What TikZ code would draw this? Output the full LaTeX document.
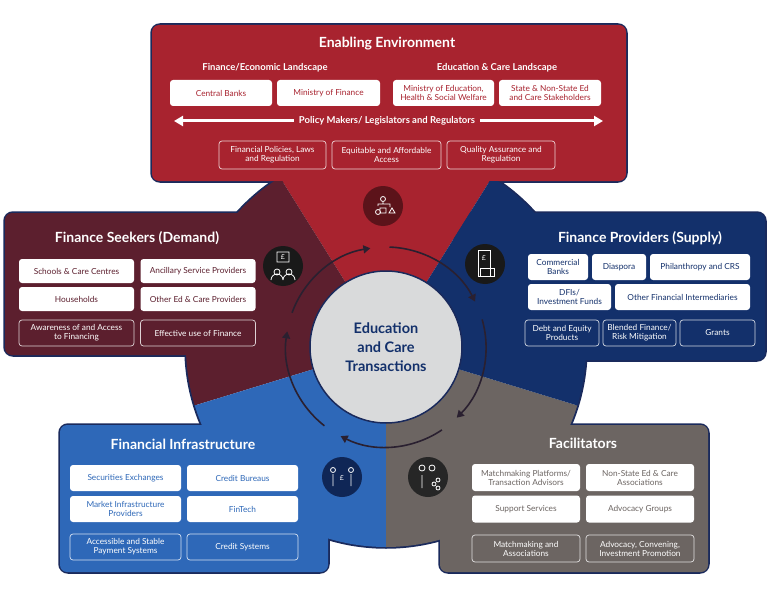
\documentclass[tikz,border=0pt]{standalone}
\usepackage{fontspec}
\setmainfont{Lato}
\usetikzlibrary{arrows.meta}
\definecolor{cred}{HTML}{A8232F}
\definecolor{cmar}{HTML}{5C1F2E}
\definecolor{cnav}{HTML}{13306B}
\definecolor{cblu}{HTML}{2E68B8}
\definecolor{cgry}{HTML}{6C6562}
\definecolor{cbor}{HTML}{1A2A5C}
\definecolor{ccir}{HTML}{D9DADB}
\definecolor{ccyc}{HTML}{2A2030}
\tikzset{
 wbox/.style={fill=white,rounded corners=3pt,text=#1,align=center,inner sep=1pt,font=\fontsize{8.3}{9}\selectfont},
 obox/.style={draw=white!80!#1,line width=0.7pt,rounded corners=3pt,text=white,align=center,inner sep=1pt,font=\fontsize{8.3}{9}\selectfont},
 ttl/.style={text=white,font=\bfseries\fontsize{14}{16}\selectfont},
 sub/.style={text=white,font=\bfseries\fontsize{9.5}{11}\selectfont},
 icon/.style={circle,fill=#1,minimum size=40pt,inner sep=0pt},
 cyc/.style={draw=ccyc,line width=1.6pt,-{Triangle[length=7pt,width=8pt]}},
 ic/.style={draw=white,line width=0.8pt}
}
\begin{document}
\begin{tikzpicture}[x=1pt,y=-1pt]
\useasboundingbox (0,0) rectangle (768,599);
% strokes
\draw[cbor,line width=3.5pt] (386,347) circle (200);
\foreach \a/\b/\c/\d in {152/25/626/181,5/213/262/355,455/213/765/360,60/425/328/572,440/425/708/572}
  \draw[cbor,line width=3.5pt,rounded corners=8pt] (\a,\b) rectangle (\c,\d);
% panel fills
\fill[cred,rounded corners=7pt] (152,25) rectangle (626,181);
\fill[cmar,rounded corners=7pt] (5,213) rectangle (262,355);
\fill[cnav,rounded corners=7pt] (455,213) rectangle (765,360);
\fill[cblu,rounded corners=7pt] (60,425) rectangle (328,572);
\fill[cgry,rounded corners=7pt] (440,425) rectangle (708,572);
% sectors
\begin{scope}
\clip (0,181) rectangle (768,599);
\begin{scope}[shift={(386,347)}]
\foreach \a/\b/\c in {58/122/cred,122/197/cmar,197/270/cblu,270/343/cgry,343/418/cnav}
  \fill[\c] (0,0) -- (-\a:200) arc[start angle=-\a,end angle=-\b,radius=200] -- cycle;
\end{scope}
\end{scope}
% cycle arrows
\begin{scope}[shift={(386,347)}]
\foreach \h in {98,26,-46,-118,-190}{
  \pgfmathsetmacro\s{-(\h+62)}
  \pgfmathsetmacro\e{-(\h+1)}
  \draw[cyc] (\s:100) arc[start angle=\s,end angle=\e,radius=100];
}
\end{scope}
% centre circle
\node[circle,fill=ccir,draw=cbor,line width=1.5pt,minimum size=152pt,align=center,text=cnav,font=\bfseries\fontsize{14.5}{19}\selectfont] (C) at (386,347) {Education\\and Care\\Transactions};
% Top panel
\node[ttl] (t1) at (387,44) {Enabling Environment};
\node[sub] (s1) at (265,68) {Finance/Economic Landscape};
\node[sub] (s2) at (497,68) {Education \& Care Landscape};
\node[wbox=cred,minimum width=102pt,minimum height=26pt] (e1) at (221,93) {Central Banks};
\node[wbox=cred,minimum width=103pt,minimum height=26pt] (e2) at (328.5,93) {Ministry of Finance};
\node[wbox=cred,minimum width=101pt,minimum height=26pt] (e3) at (443.5,93) {Ministry of Education,\\Health \& Social Welfare};
\node[wbox=cred,minimum width=102pt,minimum height=26pt] (e4) at (550,93) {State \& Non-State Ed\\and Care Stakeholders};
\node[sub,inner sep=5pt] (pm) at (387,121) {Policy Makers/ Legislators and Regulators};
\coordinate (pl) at (174,121);
\coordinate (pr) at (603,121);
\draw[white,line width=3pt,-{Triangle[length=9pt,width=10pt]}] (pm.west) -- (pl);
\draw[white,line width=3pt,-{Triangle[length=9pt,width=10pt]}] (pm.east) -- (pr);
\node[obox=cred,minimum width=107pt,minimum height=28pt] (e5) at (272.5,155) {Financial Policies, Laws\\and Regulation};
\node[obox=cred,minimum width=109pt,minimum height=28pt] (e6) at (386.5,155) {Equitable and Affordable\\Access};
\node[obox=cred,minimum width=108pt,minimum height=28pt] (e7) at (501,155) {Quality Assurance and\\Regulation};
% Demand
\node[ttl] (t2) at (137,238) {Finance Seekers (Demand)};
\node[wbox=cmar,minimum width=115pt,minimum height=24pt] (d1) at (76.5,271) {Schools \& Care Centres};
\node[wbox=cmar,minimum width=115pt,minimum height=24pt] (d2) at (198,271) {Ancillary Service Providers};
\node[wbox=cmar,minimum width=115pt,minimum height=24pt] (d3) at (76.5,299) {Households};
\node[wbox=cmar,minimum width=115pt,minimum height=24pt] (d4) at (198,299) {Other Ed \& Care Providers};
\node[obox=cmar,minimum width=115pt,minimum height=26pt] (d5) at (76.5,333) {Awareness of and Access\\to Financing};
\node[obox=cmar,minimum width=115pt,minimum height=26pt] (d6) at (198,333) {Effective use of Finance};
% Provider
\node[ttl] (t3) at (640,238) {Finance Providers (Supply)};
\node[wbox=cnav,minimum width=60pt,minimum height=26pt] (p1) at (558,267) {Commercial\\Banks};
\node[wbox=cnav,minimum width=54pt,minimum height=26pt] (p2) at (619,267) {Diaspora};
\node[wbox=cnav,minimum width=100pt,minimum height=26pt] (p3) at (700,267) {Philanthropy and CRS};
\node[wbox=cnav,minimum width=83pt,minimum height=26pt] (p4) at (569.5,297) {DFIs/\\Investment Funds};
\node[wbox=cnav,minimum width=135pt,minimum height=26pt] (p5) at (682.5,297) {Other Financial Intermediaries};
\node[obox=cnav,minimum width=74pt,minimum height=26pt] (p6) at (562,333) {Debt and Equity\\Products};
\node[obox=cnav,minimum width=73pt,minimum height=26pt] (p7) at (639.5,333) {Blended Finance/\\Risk Mitigation};
\node[obox=cnav,minimum width=75pt,minimum height=26pt] (p8) at (717.5,333) {Grants};
% Infrastructure
\node[ttl] (t4) at (183,444) {Financial Infrastructure};
\node[wbox=cblu,minimum width=111pt,minimum height=26pt] (i1) at (125.5,478) {Securities Exchanges};
\node[wbox=cblu,minimum width=111pt,minimum height=26pt] (i2) at (242.5,478) {Credit Bureaus};
\node[wbox=cblu,minimum width=111pt,minimum height=26pt] (i3) at (125.5,509) {Market Infrastructure\\Providers};
\node[wbox=cblu,minimum width=111pt,minimum height=26pt] (i4) at (242.5,509) {FinTech};
\node[obox=cblu,minimum width=111pt,minimum height=26pt] (i5) at (125.5,547) {Accessible and Stable\\Payment Systems};
\node[obox=cblu,minimum width=111pt,minimum height=26pt] (i6) at (242.5,547) {Credit Systems};
% Facilitators
\node[ttl] (t5) at (583,443) {Facilitators};
\node[wbox=cgry,minimum width=108pt,minimum height=27pt] (f1) at (526,477.5) {Matchmaking Platforms/\\Transaction Advisors};
\node[wbox=cgry,minimum width=108pt,minimum height=27pt] (f2) at (640,477.5) {Non-State Ed \& Care\\Associations};
\node[wbox=cgry,minimum width=108pt,minimum height=27pt] (f3) at (526,509) {Support Services};
\node[wbox=cgry,minimum width=108pt,minimum height=27pt] (f4) at (640,509) {Advocacy Groups};
\node[obox=cgry,minimum width=108pt,minimum height=27pt] (f5) at (526,548.5) {Matchmaking and\\Associations};
\node[obox=cgry,minimum width=108pt,minimum height=27pt] (f6) at (640,548.5) {Advocacy, Convening,\\Investment Promotion};
% icons
\node[icon=cred!55!black] (ia) at (383,206) {};
\draw[ic] (383,199) circle (2.5) (378,212) circle (2.5) (380,208) rectangle (386,213) (389,213) -- (392,208) -- (395,213) -- cycle (378,206) -- (378,204) -- (390,204) -- (390,207) (383,202) -- (383,204);
\node[icon=black!90] (ib) at (283,266) {};
\draw[ic] (277,252) rectangle (289,262) (277,272) circle (3) (289,272) circle (3) (271,280) arc[start angle=180,end angle=360,radius=6] (283,280) arc[start angle=180,end angle=360,radius=6];
\node[font=\fontsize{7}{7}\selectfont,text=white] (ibt) at (283,257) {£};
\node[icon=black!90] (ic) at (485,264) {};
\draw[ic] (478,250) rectangle (490,276) (480,268) rectangle (494,276);
\node[font=\fontsize{7}{7}\selectfont,text=white] (ict) at (484,258) {£};
\node[icon=cnav!80!black] (id) at (342,477) {};
\draw[ic] (333,470) circle (2.5) (351,470) circle (2.5) (333,474) -- (333,486) (351,474) -- (351,486);
\node[font=\fontsize{7}{7}\selectfont,text=white] (idt) at (342,478) {£};
\node[icon=black!85] (ie) at (428,477) {};
\draw[ic] (422,468) circle (3) (432,468) circle (3) (422,475) -- (422,488) (434,484) circle (2) (438,480) circle (2) (438,488) circle (2);
\end{tikzpicture}
\end{document}
